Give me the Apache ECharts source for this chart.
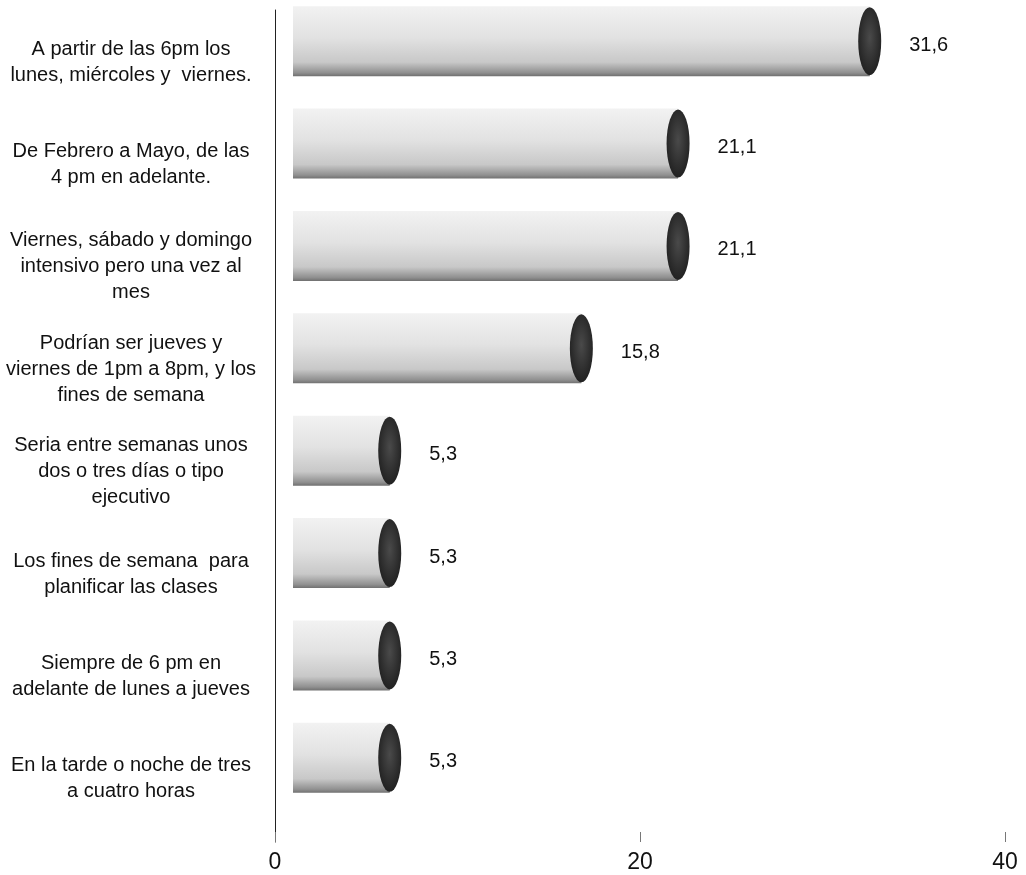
<!DOCTYPE html>
<html>
<head>
<meta charset="utf-8">
<script src="https://cdn.jsdelivr.net/npm/echarts@6/dist/echarts.min.js"></script>
<style>
html, body { margin: 0; padding: 0; background: #fff; }
#chart { width: 1026px; height: 875px; }
</style>
</head>
<body>
<div id="chart"></div>
<script>
// horarios preferidos (%)
var categorias = [
	'A partir de las 6pm los\nlunes, miércoles y  viernes.',
	'De Febrero a Mayo, de las\n4 pm en adelante.',
	'Viernes, sábado y domingo\nintensivo pero una vez al\nmes',
	'Podrían ser jueves y\nviernes de 1pm a 8pm, y los\nfines de semana',
	'Seria entre semanas unos\ndos o tres días o tipo\nejecutivo',
	'Los fines de semana  para\nplanificar las clases',
	'Siempre de 6 pm en\nadelante de lunes a jueves',
	'En la tarde o noche de tres\na cuatro horas'
];
var valores = [31.6, 21.1, 21.1, 15.8, 5.3, 5.3, 5.3, 5.3];
var ticksX = [0, 20, 40];

var myChart = echarts.init(document.getElementById('chart'));

var fuente = "'Liberation Sans', Arial, sans-serif";

var option = {
	animation: false,
	backgroundColor: '#fff',
	grid: [
		// barras
		{ left: 293, width: 730, top: -10, height: 819, outerBoundsMode: 'none' },
		// marco de ejes
		{ left: 275, right: 21, top: 10, bottom: 33, outerBoundsMode: 'none' }
	],
	xAxis: [{
			gridIndex: 0,
			type: 'value',
			min: ticksX[0],
			max: ticksX[ticksX.length - 1],
			show: false
		},
		{
			gridIndex: 1,
			type: 'value',
			min: ticksX[0],
			max: ticksX[ticksX.length - 1],
			interval: 20,
			axisLine: { show: false },
			axisTick: { show: true, inside: true, length: 10, lineStyle: { color: '#777' } },
			splitLine: { show: false },
			axisLabel: {
				margin: 9,
				fontSize: 23,
				fontFamily: fuente,
				color: '#111'
			}
		}
	],
	yAxis: [{
			gridIndex: 0,
			type: 'category',
			inverse: true,
			data: categorias,
			axisLine: { show: false },
			axisTick: { show: false },
			axisLabel: {
				align: 'center',
				margin: 162,
				formatter: function (v) {
					// linea vacia arriba para bajar el texto
					return '{s| }\n' + v.split('\n').map(function (l) {
						return '{t|' + l + '}';
					}).join('\n');
				},
				rich: {
					s: { fontSize: 10, lineHeight: 42 },
					t: { fontSize: 20, lineHeight: 26, fontFamily: fuente, color: '#111' }
				}
			}
		},
		{
			gridIndex: 1,
			type: 'category',
			data: [''],
			axisLine: { show: true, lineStyle: { color: '#222', width: 1 } },
			axisTick: { show: false },
			axisLabel: { show: false }
		}
	],
	series: [{
			name: 'cuerpo',
			type: 'bar',
			xAxisIndex: 0,
			yAxisIndex: 0,
			data: valores,
			barWidth: 70,
			itemStyle: {
				color: new echarts.graphic.LinearGradient(0, 0, 0, 1, [
					{ offset: 0, color: '#f2f2f2' },
					{ offset: 0.45, color: '#e2e2e2' },
					{ offset: 0.8, color: '#c8c8c8' },
					{ offset: 0.95, color: '#909090' },
					{ offset: 1, color: '#707070' }
				])
			}
		},
		{
			name: 'tapa',
			type: 'pictorialBar',
			xAxisIndex: 0,
			yAxisIndex: 0,
			data: valores,
			symbol: 'circle',
			symbolSize: [23, 68],
			symbolPosition: 'end',
			symbolOffset: ['50%', 0],
			z: 3,
			itemStyle: {
				color: new echarts.graphic.RadialGradient(0.5, 0.45, 0.6, [
					{ offset: 0, color: '#4a4a4a' },
					{ offset: 1, color: '#1e1e1e' }
				])
			},
			label: {
				show: true,
				position: 'right',
				distance: 28,
				offset: [0, 4],
				fontSize: 20,
				fontFamily: fuente,
				color: '#111',
				formatter: function (p) {
					return String(p.value).replace('.', ',');
				}
			}
		}
	]
};

myChart.setOption(option);
</script>
</body>
</html>
